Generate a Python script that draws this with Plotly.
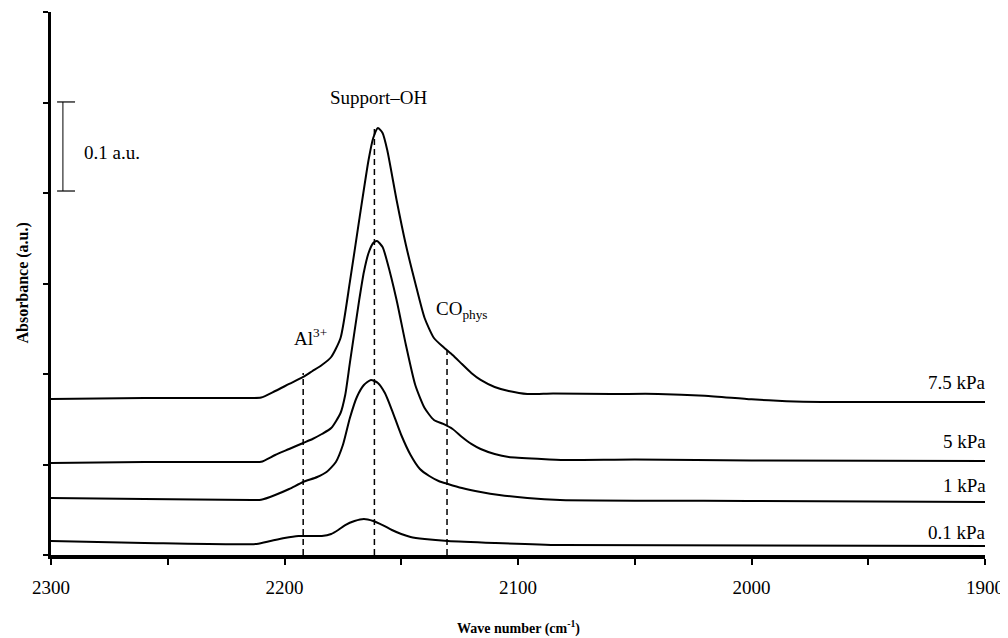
import plotly.graph_objects as go

# ---- data (wavenumber cm^-1, absorbance a.u.) ----
wn_75 = [2300, 2260, 2214, 2210, 2204, 2198, 2192, 2188, 2184, 2180, 2176, 2172, 2168,
         2164, 2162, 2160, 2158, 2156, 2152, 2148, 2144, 2140, 2136, 2132, 2128, 2124,
         2120, 2116, 2110, 2104, 2096, 2085, 2060, 2040, 2020, 2000, 1985, 1970, 1900]
ab_75 = [0.1724, 0.1735, 0.1735, 0.1740, 0.1812, 0.1890, 0.1967, 0.2033, 0.2099, 0.2188,
         0.2398, 0.3017, 0.3702, 0.4365, 0.4608, 0.4718, 0.4663, 0.4475, 0.3923, 0.3425,
         0.3006, 0.2619, 0.2398, 0.2298, 0.2210, 0.2110, 0.2011, 0.1934, 0.1856, 0.1812,
         0.1779, 0.1785, 0.1780, 0.1780, 0.1760, 0.1720, 0.1700, 0.1691, 0.1691]

wn_5 = [2300, 2260, 2214, 2210, 2204, 2198, 2192, 2188, 2184, 2180, 2176, 2174, 2172,
        2168, 2166, 2164, 2162, 2160.4, 2158, 2156, 2152, 2148, 2144, 2140, 2136, 2132,
        2128, 2124, 2120, 2116, 2110, 2104, 2090, 2080, 2050, 2000, 1900]
ab_5 = [0.1017, 0.1028, 0.1028, 0.1030, 0.1105, 0.1171, 0.1238, 0.1282, 0.1337, 0.1403,
        0.1569, 0.1768, 0.2122, 0.2818, 0.3127, 0.3337, 0.3448, 0.3470, 0.3403, 0.3238,
        0.2818, 0.2320, 0.1878, 0.1624, 0.1492, 0.1448, 0.1392, 0.1304, 0.1227, 0.1171,
        0.1116, 0.1083, 0.1061, 0.1050, 0.1055, 0.1045, 0.1039]

wn_1 = [2300, 2260, 2214, 2210, 2204, 2198, 2192, 2186, 2182, 2178, 2175, 2172, 2169,
        2166, 2163, 2160, 2157, 2154, 2150, 2146, 2142, 2138, 2134, 2130, 2124, 2116,
        2108, 2096, 2082, 2000, 1900]
ab_1 = [0.0630, 0.0619, 0.0608, 0.0610, 0.0663, 0.0729, 0.0807, 0.0862, 0.0917, 0.1028,
        0.1215, 0.1514, 0.1746, 0.1878, 0.1934, 0.1901, 0.1790, 0.1602, 0.1326, 0.1105,
        0.0950, 0.0873, 0.0818, 0.0785, 0.0740, 0.0696, 0.0663, 0.0630, 0.0608, 0.0597,
        0.0586]

wn_01 = [2300, 2260, 2212, 2206, 2200, 2194, 2188, 2184, 2180, 2177, 2174, 2170, 2166,
         2162, 2158, 2154, 2150, 2146, 2140, 2130, 2110, 2082, 1900]
ab_01 = [0.0155, 0.0133, 0.0122, 0.0155, 0.0188, 0.0210, 0.0210, 0.0210, 0.0232, 0.0276,
         0.0331, 0.0376, 0.0398, 0.0376, 0.0331, 0.0276, 0.0232, 0.0199, 0.0177, 0.0155,
         0.0133, 0.0110, 0.0099]

series = [
    ("7.5 kPa", wn_75, ab_75, 0.191),
    ("5 kPa", wn_5, ab_5, 0.125),
    ("1 kPa", wn_1, ab_1, 0.0773),
    ("0.1 kPa", wn_01, ab_01, 0.0254),
]

# band marker positions (dashed guides) and their upper ends
band_wn = [2192, 2161.5, 2130.4]
band_top = [0.2011, 0.4718, 0.2265]

# band labels
band_labels = ["Al<sup>3+</sup>", "Support\u2013OH", "CO<sub>phys</sub>"]
band_label_wn = [2188.7, 2159.6, 2124]
band_label_ab = [0.241, 0.505, 0.271]

x_ticks = [2300, 2250, 2200, 2150, 2100, 2050, 2000, 1950, 1900]
x_ticktext = ["2300", "", "2200", "", "2100", "", "2000", "", "1900"]
y_ticks = [0, 0.1, 0.2, 0.3, 0.4, 0.5, 0.6]

FONT = "Liberation Serif"

fig = go.Figure()

for name, xs, ys, _ in series:
    fig.add_trace(go.Scatter(x=xs, y=ys, mode="lines", name=name,
                             line=dict(color="black", width=2, shape="spline", smoothing=0.6),
                             showlegend=False, hoverinfo="skip"))

for bw, bt in zip(band_wn, band_top):
    fig.add_trace(go.Scatter(x=[bw, bw], y=[0, bt], mode="lines",
                             line=dict(color="black", width=1.5, dash="6px,4px"),
                             showlegend=False, hoverinfo="skip"))

# scale bar 0.1 a.u.
bar_x = 2294.9
bar_lo, bar_hi = 0.4022, 0.5006
cap_l, cap_r = 2297.4, 2289.7
fig.add_trace(go.Scatter(x=[bar_x, bar_x], y=[bar_lo, bar_hi], mode="lines",
                         line=dict(color="black", width=1), showlegend=False, hoverinfo="skip"))
for yy in (bar_lo, bar_hi):
    fig.add_trace(go.Scatter(x=[cap_l, cap_r], y=[yy, yy], mode="lines",
                             line=dict(color="black", width=1.2), showlegend=False,
                             hoverinfo="skip"))

annotations = []
annotations.append(dict(x=2286.7, y=0.4453, text="0.1 a.u.", showarrow=False,
                        xanchor="left", yanchor="middle",
                        font=dict(family=FONT, size=19, color="black")))
for t, xw, ya in zip(band_labels, band_label_wn, band_label_ab):
    annotations.append(dict(x=xw, y=ya, text=t, showarrow=False, xanchor="center",
                            yanchor="middle", font=dict(family=FONT, size=19, color="black")))
for name, _, _, ly in series:
    annotations.append(dict(x=1.003, xref="paper", y=ly, text=name, showarrow=False,
                            xanchor="right", yanchor="middle",
                            font=dict(family=FONT, size=19, color="black")))
annotations.append(dict(x=0.5, xref="paper", y=-0.133, yref="paper",
                        text="<b>Wave number (cm<sup>-1</sup>)</b>", showarrow=False,
                        xanchor="center", yanchor="middle",
                        font=dict(family=FONT, size=14, color="black")))
annotations.append(dict(x=-0.031, xref="paper", y=0.5, yref="paper",
                        text="<b>Absorbance (a.u.)</b>", showarrow=False, textangle=-90,
                        xanchor="center", yanchor="middle",
                        font=dict(family=FONT, size=16, color="black")))

fig.update_layout(
    width=1000, height=630,
    margin=dict(l=43, r=23, t=4, b=83),
    paper_bgcolor="white", plot_bgcolor="white",
    annotations=annotations,
    xaxis=dict(range=[2300, 1900], tickvals=x_ticks, ticktext=x_ticktext,
               showline=True, linecolor="black", linewidth=4, ticks="outside",
               ticklen=6, tickwidth=2, tickcolor="black", showgrid=False, zeroline=False,
               ticklabelstandoff=6,
               tickfont=dict(family=FONT, size=19, color="black")),
    yaxis=dict(range=[0, 0.6], tickvals=y_ticks, showticklabels=False,
               showline=True, linecolor="black", linewidth=3, ticks="outside",
               ticklen=5, tickwidth=2, tickcolor="black", showgrid=False, zeroline=False),
)

fig.write_html("out.html")
